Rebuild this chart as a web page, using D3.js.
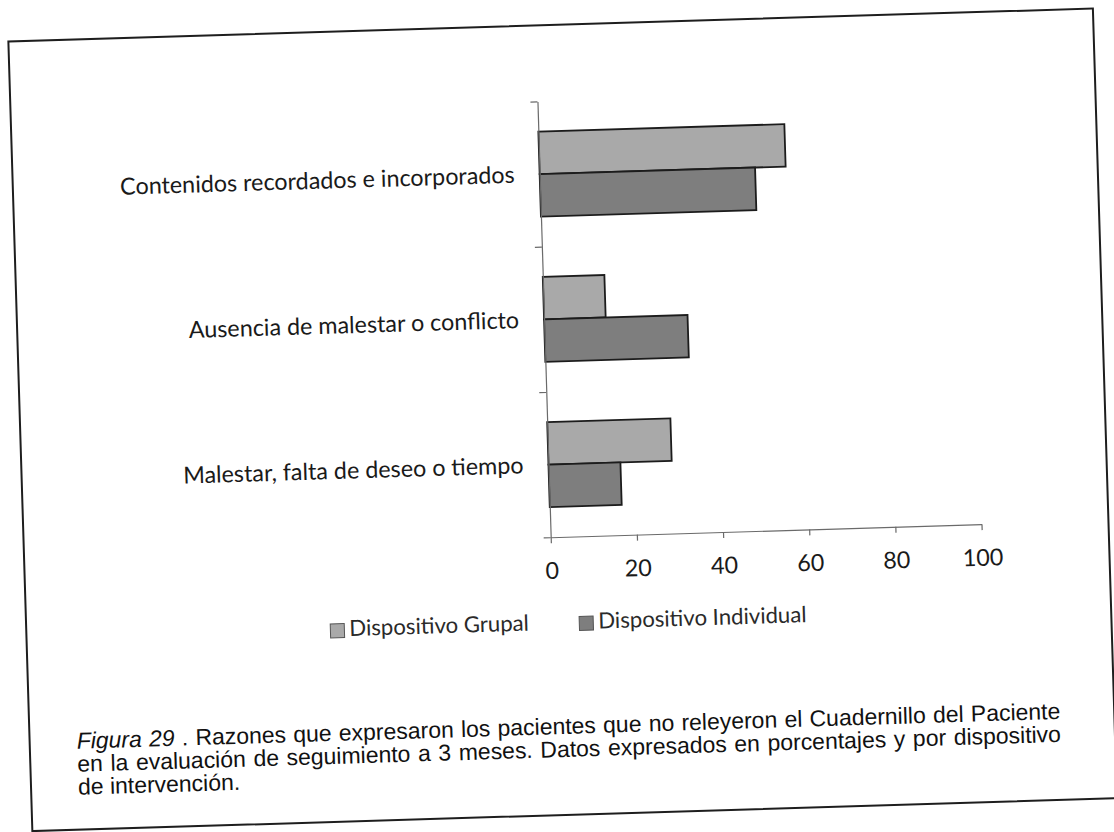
<!DOCTYPE html>
<html>
<head>
<meta charset="utf-8">
<script src="https://cdn.jsdelivr.net/npm/d3@7"></script>
<style>
  html, body { margin: 0; padding: 0; background: #fff; }
  svg { display: block; }
</style>
</head>
<body>
<svg id="chart" width="1114" height="832"></svg>
<script>
// ---- data ----
const categories = [
  "Contenidos recordados e incorporados",
  "Ausencia de malestar o conflicto",
  "Malestar, falta de deseo o tiempo"
];
const seriesNames = ["Dispositivo Grupal", "Dispositivo Individual"];
const grupalValues = [57.1, 14.3, 28.6];
const individualValues = [50.0, 33.3, 16.7];
const xTickValues = [0, 20, 40, 60, 80, 100];
const captionLines = [
  [{t: "Figura 29", i: true}, {t: " . Razones que expresaron los pacientes que no releyeron el Cuadernillo del Paciente", i: false}],
  [{t: "en la evaluación de seguimiento a 3 meses. Datos expresados en porcentajes y por dispositivo", i: false}],
  [{t: "de intervención.", i: false}]
];

// ---- style ----
const colors = {"Dispositivo Grupal": "#a9a9a9", "Dispositivo Individual": "#7e7e7e"};
const labelFont = "Lato, 'Open Sans', sans-serif";
const captionFont = "'Liberation Sans', Arial, sans-serif";

const svg = d3.select("#chart");
svg.append("rect").attr("width", 1114).attr("height", 832).attr("fill", "#fff");
const root = svg.append("g").attr("transform", "rotate(-1.74, 557, 416)");

// frame
root.append("rect")
  .attr("x", 20).attr("y", 25).attr("width", 1085).attr("height", 790)
  .attr("fill", "none").attr("stroke", "#1e1e1e").attr("stroke-width", 2);

// scales
const x = d3.scaleLinear().domain([0, 100]).range([547, 978]);
const y = d3.scaleBand().domain(categories).range([101, 537]).padding(0);
const yInner = d3.scaleBand().domain(seriesNames).range([0, y.bandwidth()]).paddingInner(0).paddingOuter(0.71);
const yEdges = d3.scaleLinear().domain([0, categories.length]).range([101, 537]);

const rows = categories.map((c, i) => ({
  cat: c,
  vals: [
    {s: seriesNames[0], v: grupalValues[i]},
    {s: seriesNames[1], v: individualValues[i]}
  ]
}));

// bars
const groups = root.append("g").selectAll("g").data(rows).join("g")
  .attr("transform", d => `translate(0,${y(d.cat)})`);
groups.selectAll("rect").data(d => d.vals).join("rect")
  .attr("x", x(0))
  .attr("y", d => yInner(d.s))
  .attr("width", d => x(d.v) - x(0))
  .attr("height", yInner.bandwidth())
  .attr("fill", d => colors[d.s])
  .attr("stroke", "#1c1c1c")
  .attr("stroke-width", 1.8);

// y axis (ticks between categories)
const yAxisG = root.append("g").attr("transform", `translate(${x(0)},0)`)
  .call(d3.axisLeft(yEdges).tickValues(d3.range(categories.length + 1)).tickFormat("").tickSize(7).tickSizeOuter(0));
yAxisG.selectAll("path, line").attr("stroke", "#6a6a6a").attr("stroke-width", 1.2);

// category labels
const catLabels = root.append("g").selectAll("text").data(categories).join("text")
  .attr("x", 522)
  .attr("y", d => y(d) + y.bandwidth() / 2 + 2)
  .attr("text-anchor", "end")
  .attr("dominant-baseline", "middle")
  .attr("font-family", labelFont)
  .attr("font-size", 22)
  .attr("fill", "#1a1a1a")
  .text(d => d);
// fit first label width to reference (~395px)
const w0 = catLabels.nodes()[0].getComputedTextLength();
const fs = 22 * 395 / w0;
catLabels.attr("font-size", fs);

// x axis
const xAxisG = root.append("g").attr("transform", `translate(0,537)`)
  .call(d3.axisBottom(x).tickValues(xTickValues).tickSize(6).tickSizeOuter(0).tickPadding(19));
xAxisG.selectAll("path, line").attr("stroke", "#6a6a6a").attr("stroke-width", 1.2);
xAxisG.selectAll("text")
  .attr("font-family", labelFont)
  .attr("font-size", fs)
  .attr("fill", "#1a1a1a");

// legend
const legendItems = [
  {s: seriesNames[0], x: 324},
  {s: seriesNames[1], x: 573}
];
const lg = root.append("g").selectAll("g").data(legendItems).join("g")
  .attr("transform", d => `translate(${d.x},624)`);
lg.append("rect").attr("x", 0).attr("y", -7).attr("width", 14).attr("height", 14)
  .attr("fill", d => colors[d.s]).attr("stroke", "#555").attr("stroke-width", 1);
lg.append("text").attr("x", 19).attr("y", 0)
  .attr("dominant-baseline", "middle")
  .attr("font-family", labelFont)
  .attr("font-size", fs * 0.95)
  .attr("fill", "#2a2a2a")
  .text(d => d.s);

// caption
const capX = 67, capW = 984, capY0 = 734, capDy = 23;
const capTexts = captionLines.map((parts, li) => {
  const t = root.append("text")
    .attr("x", capX).attr("y", capY0 + li * capDy)
    .attr("font-family", captionFont)
    .attr("font-size", 20)
    .attr("fill", "#111");
  parts.forEach(p => {
    t.append("tspan").attr("font-style", p.i ? "italic" : "normal").text(p.t);
  });
  return t;
});
// size caption font so that the first line nearly fills the justified width
const n1 = capTexts[0].node().getComputedTextLength();
const capFs = 20 * 972 / n1;
capTexts.forEach(t => t.attr("font-size", capFs));
capTexts.forEach((t, li) => {
  if (li < captionLines.length - 1) {
    const natural = t.node().getComputedTextLength();
    const full = captionLines[li].map(p => p.t).join("");
    const spaces = (full.match(/ /g) || []).length;
    if (spaces > 0) t.attr("word-spacing", Math.max(0, (capW - natural) / spaces));
  }
});
</script>
</body>
</html>
